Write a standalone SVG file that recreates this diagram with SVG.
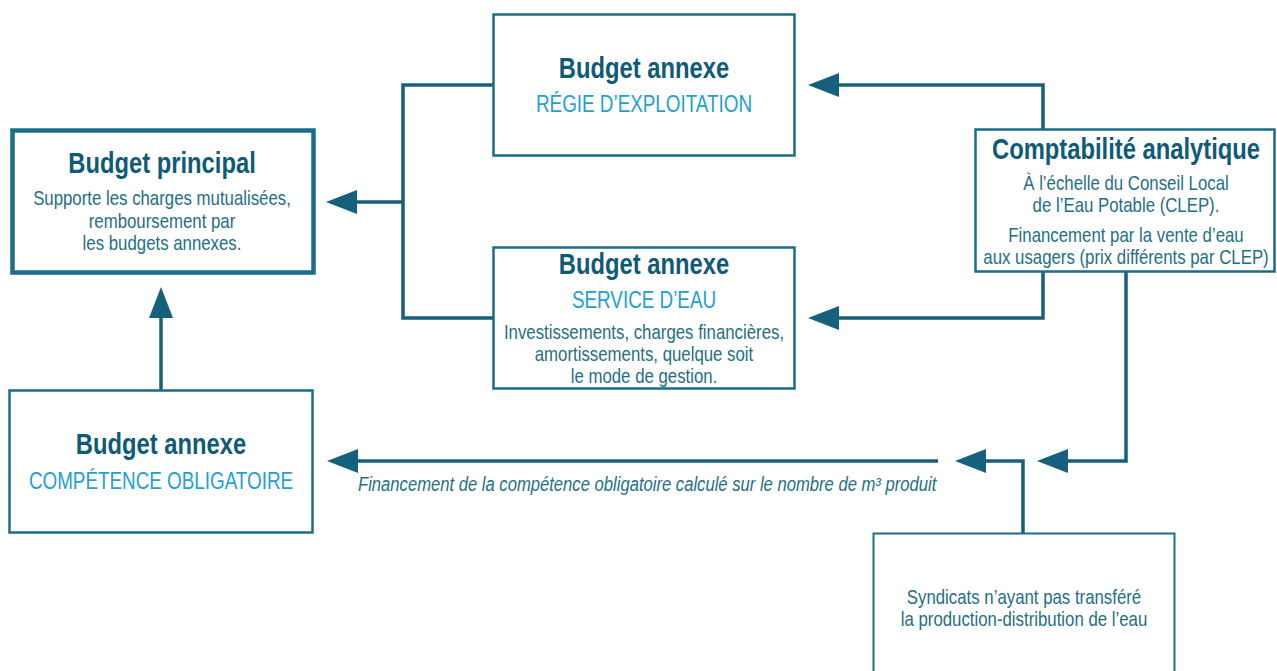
<svg xmlns="http://www.w3.org/2000/svg" width="1277" height="671" viewBox="0 0 1277 671">
<style>
text{font-family:"Liberation Sans",Arial,sans-serif;text-anchor:middle}
.box{fill:#fff;stroke:#1a6c87;stroke-width:2.5}
.thick{stroke-width:4.5}
.thin{stroke-width:2}
.h{font-weight:bold;font-size:29px;fill:#0e5a77}
.l{font-size:23px;fill:#22a0d2}
.b{font-size:20.5px;fill:#246f85}
.it{font-size:19.5px;font-style:italic;fill:#246f85;text-anchor:start}
.c{fill:none;stroke:#15607d;stroke-width:3.5;marker-end:url(#ah)}
.cn{fill:none;stroke:#15607d;stroke-width:3.5}
</style>
<defs>
<marker id="ah" markerUnits="userSpaceOnUse" markerWidth="32" markerHeight="26" viewBox="0 -13 32 26" refX="0" refY="0" orient="auto" overflow="visible">
<path d="M0,-12 L31,0 L0,12 Z" fill="#15607d"/>
</marker>
</defs>
<rect width="1277" height="671" fill="#fff"/>
<g id="connectors">
<path class="cn" d="M493,85 H403 V318 H493"/>
<path class="c" d="M403,202 H357"/>
<path class="c" d="M1043,129 V85 H839"/>
<path class="c" d="M1043,272 V318 H839"/>
<path class="c" d="M1126,272 V461 H1068"/>
<path class="c" d="M1023,533 V461 H986"/>
<path class="c" d="M938,461 H358"/>
<path class="c" d="M161,390 V318"/>
<text class="it" transform="translate(358,491) scale(0.853,1)">Financement de la compétence obligatoire calculé sur le nombre de m³ produit</text>
</g>
<g id="budget-principal">
<rect class="box thick" x="12.5" y="130.5" width="301" height="142"/>
<text class="h" transform="translate(162,173) scale(0.82,1)">Budget principal</text>
<text class="b" transform="translate(162,205) scale(0.82,1)">Supporte les charges mutualisées,</text>
<text class="b" transform="translate(162,228) scale(0.82,1)">remboursement par</text>
<text class="b" transform="translate(162,250) scale(0.82,1)">les budgets annexes.</text>
</g>
<g id="regie">
<rect class="box" x="493.5" y="14.5" width="301" height="141"/>
<text class="h" transform="translate(644,78) scale(0.82,1)">Budget annexe</text>
<text class="l" transform="translate(644,112) scale(0.82,1)">RÉGIE D’EXPLOITATION</text>
</g>
<g id="service-eau">
<rect class="box" x="493.5" y="247.5" width="301" height="141"/>
<text class="h" transform="translate(644,274) scale(0.82,1)">Budget annexe</text>
<text class="l" transform="translate(644,308) scale(0.82,1)">SERVICE D’EAU</text>
<text class="b" transform="translate(644,339) scale(0.82,1)">Investissements, charges financières,</text>
<text class="b" transform="translate(644,361) scale(0.82,1)">amortissements, quelque soit</text>
<text class="b" transform="translate(644,383) scale(0.82,1)">le mode de gestion.</text>
</g>
<g id="comptabilite">
<rect class="box" x="975.5" y="129.5" width="299" height="142"/>
<text class="h" transform="translate(1126,159) scale(0.82,1)">Comptabilité analytique</text>
<text class="b" transform="translate(1126,190) scale(0.82,1)">À l’échelle du Conseil Local</text>
<text class="b" transform="translate(1126,212) scale(0.82,1)">de l’Eau Potable (CLEP).</text>
<text class="b" transform="translate(1126,242) scale(0.82,1)">Financement par la vente d’eau</text>
<text class="b" transform="translate(1126,264) scale(0.82,1)">aux usagers (prix différents par CLEP)</text>
</g>
<g id="competence">
<rect class="box" x="9.5" y="390.5" width="303" height="142"/>
<text class="h" transform="translate(161,454) scale(0.82,1)">Budget annexe</text>
<text class="l" transform="translate(161,489) scale(0.82,1)">COMPÉTENCE OBLIGATOIRE</text>
</g>
<g id="syndicats">
<rect class="box thin" x="873.5" y="533.5" width="301" height="150"/>
<text class="b" transform="translate(1024,604) scale(0.82,1)">Syndicats n’ayant pas transféré</text>
<text class="b" transform="translate(1024,626) scale(0.82,1)">la production-distribution de l’eau</text>
</g>
</svg>
